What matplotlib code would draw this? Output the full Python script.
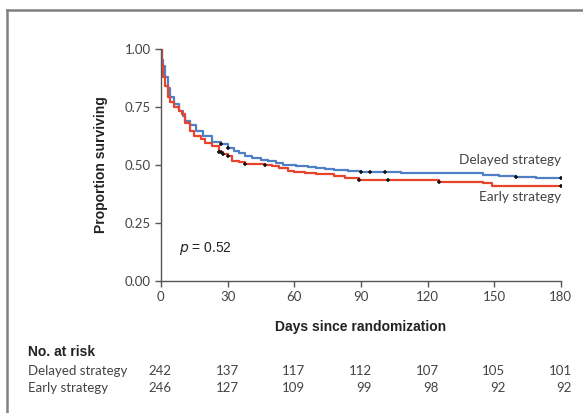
import matplotlib
matplotlib.use("Agg")
import matplotlib.pyplot as plt
from matplotlib.lines import Line2D
from matplotlib.transforms import offset_copy, blended_transform_factory

# Kaplan-Meier curves (day, proportion surviving)
delayed_days = [0, 0.5, 1, 2, 3, 4, 6, 8, 10, 11, 13, 16, 19, 23, 27, 30, 33, 35,
                38, 41, 45, 48, 52, 55, 61, 66, 70, 74, 78, 84, 90, 108, 137, 145,
                152, 160, 169, 180]
delayed_surv = [1.0, 0.95, 0.925, 0.88, 0.83, 0.79, 0.76, 0.73, 0.71, 0.69, 0.67,
                0.645, 0.625, 0.60, 0.59, 0.573, 0.56, 0.55, 0.54, 0.53, 0.52,
                0.515, 0.508, 0.50, 0.495, 0.49, 0.485, 0.48, 0.476, 0.472, 0.469,
                0.465, 0.463, 0.455, 0.452, 0.448, 0.443, 0.443]
early_days = [0, 0.5, 1, 2, 3, 4, 6, 8, 9.5, 11, 13, 15, 18, 20, 23, 26, 28, 30,
              32, 35, 38, 47, 50, 53, 57, 60, 65, 70, 78, 83, 89, 102, 120, 125,
              145, 149, 180]
early_surv = [1.0, 0.93, 0.88, 0.84, 0.79, 0.77, 0.75, 0.73, 0.717, 0.68, 0.645,
              0.625, 0.609, 0.595, 0.58, 0.554, 0.545, 0.537, 0.518, 0.512, 0.505,
              0.498, 0.493, 0.486, 0.475, 0.468, 0.465, 0.462, 0.45, 0.443, 0.436,
              0.433, 0.433, 0.424, 0.42, 0.41, 0.41]

# censoring marks
delayed_cens = [27, 30, 90, 94, 101, 160, 180]
early_cens = [26, 27, 28, 30, 38, 47, 89, 102, 125, 180]

risk_days = [0, 30, 60, 90, 120, 150, 180]
risk_delayed = [242, 137, 117, 112, 107, 105, 101]
risk_early = [246, 127, 109, 99, 98, 92, 92]

blue = '#4f7fc4'
red = '#e8432c'
grey = '#444444'
light = ['Lato', 'DejaVu Sans']
bold = ['Liberation Sans', 'DejaVu Sans']


def surv_at(days, surv, t):
    s = surv[0]
    for d, v in zip(days, surv):
        if d <= t:
            s = v
    return s


fig = plt.figure(figsize=(5.83, 4.13), dpi=100)
ax = fig.add_axes([0.276, 0.320, 0.686, 0.562])

ax.step(delayed_days, delayed_surv, where='post', color=blue, lw=1.6)
ax.step(early_days, early_surv, where='post', color=red, lw=1.6)
ax.plot(delayed_cens, [surv_at(delayed_days, delayed_surv, t) for t in delayed_cens],
        '+', color='#111111', ms=3, mew=1.1)
ax.plot(early_cens, [surv_at(early_days, early_surv, t) for t in early_cens],
        '+', color='#111111', ms=3, mew=1.1)

ax.set_xlim(0, 180)
ax.set_ylim(0, 1.0)
ax.set_xticks(risk_days)
ax.set_yticks([0, 0.25, 0.5, 0.75, 1.0])
ax.set_yticklabels(['0.00', '0.25', '0.50', '0.75', '1.00'])
for s in ['top', 'right']:
    ax.spines[s].set_visible(False)
for s in ['left', 'bottom']:
    ax.spines[s].set_color('#555555')
    ax.spines[s].set_linewidth(1.0)
ax.tick_params(direction='out', length=4, width=1.0, color='#555555',
               labelcolor=grey, labelsize=9.5)
for lab in ax.get_xticklabels() + ax.get_yticklabels():
    lab.set_family(light)

ax.set_xlabel('Days since randomization', fontsize=10, fontweight='bold',
              family=bold, color='#222222', labelpad=12)
ax.set_ylabel('Proportion surviving', fontsize=10, fontweight='bold',
              family=bold, color='#222222', labelpad=12)

ax.text(180, 0.52, 'Delayed strategy', ha='right', va='center', fontsize=9.8,
        family=light, color=grey)
ax.text(180, 0.36, 'Early strategy', ha='right', va='center', fontsize=9.8,
        family=light, color=grey)
ax.text(8, 0.14, r'$\it{p}$ = 0.52', ha='left', va='center', fontsize=10,
        family=bold, color='#222222')

# number at risk table
tr = blended_transform_factory(ax.transData, fig.transFigure)
tr = offset_copy(tr, fig=fig, x=11, y=0, units='dots')
fig.text(28 / 583, 1 - 352 / 413, 'No. at risk', fontsize=10, fontweight='bold',
         family=bold, color='#222222', va='center')
fig.text(28 / 583, 1 - 371 / 413, 'Delayed strategy', fontsize=9.5,
         family=light, color=grey, va='center')
fig.text(28 / 583, 1 - 388 / 413, 'Early strategy', fontsize=9.5,
         family=light, color=grey, va='center')
for d, a, b in zip(risk_days, risk_delayed, risk_early):
    fig.text(d, 1 - 371 / 413, str(a), transform=tr, ha='right', va='center',
             fontsize=9.5, family=light, color=grey)
    fig.text(d, 1 - 388 / 413, str(b), transform=tr, ha='right', va='center',
             fontsize=9.5, family=light, color=grey)

# frame around the figure (left and top edges visible)
fig.add_artist(Line2D([7 / 583, 7 / 583], [0, 1 - 10 / 413], transform=fig.transFigure,
                      color='#808080', lw=1.8))
fig.add_artist(Line2D([7 / 583, 1], [1 - 10 / 413, 1 - 10 / 413], transform=fig.transFigure,
                      color='#808080', lw=1.8))

fig.savefig('out.png', dpi=100)
